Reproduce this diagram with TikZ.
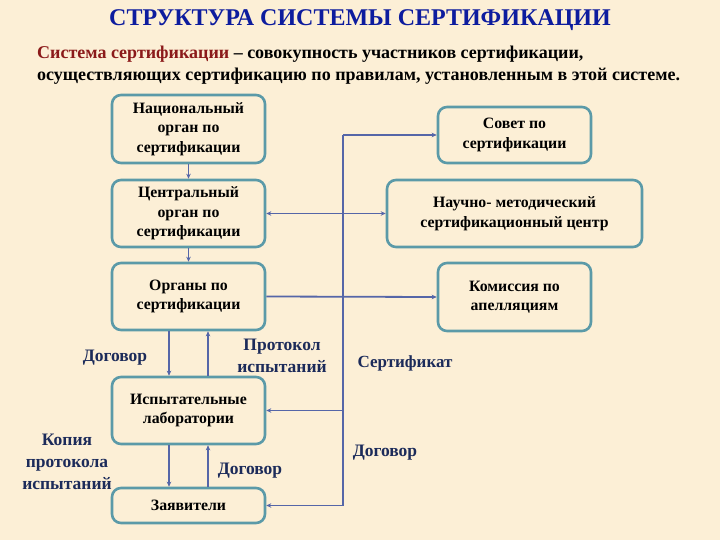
\documentclass[tikz,border=0pt]{standalone}
\usepackage{fontspec}
\setmainfont{Liberation Serif}
\usetikzlibrary{arrows.meta}
\definecolor{bgc}{HTML}{FCEFD6}
\definecolor{boxc}{HTML}{5B9AA8}
\definecolor{linec}{HTML}{5566A8}
\definecolor{labc}{HTML}{1C2B5A}
\definecolor{titc}{HTML}{0D1C9E}
\definecolor{redc}{HTML}{8B1A1A}
\tikzset{
  orgbox/.style={draw=boxc, line width=2.6pt, rounded corners=9pt, fill=bgc,
    align=center, inner sep=0pt, font=\fontsize{15.8}{19.5}\selectfont\bfseries},
  conn/.style={draw=linec, line width=1.8pt},
  arr/.style={conn, -{Stealth[length=5pt,width=4.5pt]}},
  darr/.style={conn, {Stealth[length=5pt,width=4.5pt]}-{Stealth[length=5pt,width=4.5pt]}},
  lab/.style={text=labc, align=center, inner sep=0pt, font=\fontsize{17.5}{22}\selectfont\bfseries},
}
\begin{document}
\begin{tikzpicture}[x=1pt,y=-1pt]
\fill[bgc] (0,0) rectangle (720,540);
\useasboundingbox (0,0) rectangle (720,540);

% title and definition
\node[text=titc, font=\fontsize{24}{26}\selectfont\bfseries] (title) at (360,20) {СТРУКТУРА СИСТЕМЫ СЕРТИФИКАЦИИ};
\node[anchor=base west, inner sep=0pt, font=\fontsize{18}{20}\selectfont\bfseries] (def1) at (37,59)
  {\textcolor{redc}{Система сертификации} – совокупность участников сертификации,};
\node[anchor=base west, inner sep=0pt, font=\fontsize{18}{20}\selectfont\bfseries] (def2) at (37,81)
  {осуществляющих сертификацию по правилам, установленным в этой системе.};

% boxes
\node[orgbox, minimum width=153pt, minimum height=68pt] (nat) at (188.5,129) {Национальный\\орган по\\сертификации};
\node[orgbox, minimum width=153pt, minimum height=67pt] (cen) at (188.5,213.5) {Центральный\\орган по\\сертификации};
\node[orgbox, minimum width=153pt, minimum height=67pt] (org) at (188.5,296.5) {Органы по\\сертификации};
\node[orgbox, minimum width=153pt, minimum height=56pt] (sov) at (514.5,135) {Совет по\\сертификации};
\node[orgbox, minimum width=255pt, minimum height=67pt] (nmc) at (514.5,213.5) {Научно- методический\\сертификационный центр};
\node[orgbox, minimum width=153pt, minimum height=68pt] (kom) at (514.5,297) {Комиссия по\\апелляциям};
\node[orgbox, minimum width=153pt, minimum height=67pt] (isp) at (188.5,410.5) {Испытательные\\лаборатории};
\node[orgbox, minimum width=153pt, minimum height=35pt] (zay) at (188.5,505.5) {Заявители};

% spine
\coordinate (top) at (343,135);
\coordinate (bot) at (343,505.5);
\coordinate (mid) at (343,410.5);
\draw[conn] (top) -- (bot);
\draw[arr] (top) -- (sov.west);
\draw[darr] (cen.east) -- (nmc.west);
\draw[arr] (org.east) -- (kom.west);
\draw[arr] (mid) -- (isp.east);
\draw[arr] (bot) -- (zay.east);

% vertical chain
\draw[arr] (nat.south) -- (cen.north);
\draw[arr] (cen.south) -- (org.north);
\draw[arr] (org.south -| 169,0) -- (isp.north -| 169,0);
\draw[arr] (isp.north -| 208,0) -- (org.south -| 208,0);
\draw[arr] (isp.south -| 169,0) -- (zay.north -| 169,0);
\draw[arr] (zay.north -| 208,0) -- (isp.south -| 208,0);

% labels
\node[lab] (dog1) at (115,358) {Договор};
\node[lab, font=\fontsize{17}{22}\selectfont\bfseries] (cert) at (405,363) {Сертификат};
\node[lab] (prot) at (282,356) {Протокол\\испытаний};
\node[lab] (kop) at (67,462) {Копия\\протокола\\испытаний};
\node[lab] (dog2) at (250,471) {Договор};
\node[lab] (dog3) at (385,453) {Договор};
\end{tikzpicture}
\end{document}
